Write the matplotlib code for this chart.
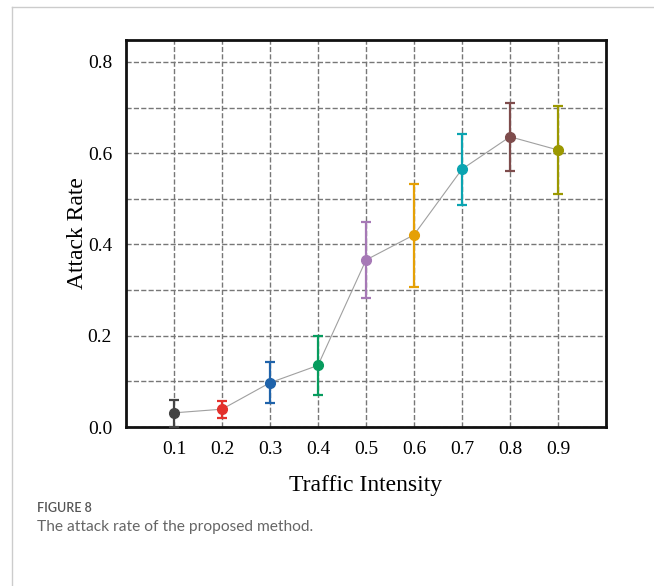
import matplotlib.pyplot as plt
from matplotlib.lines import Line2D

# traffic intensity levels and measured attack rate (mean +/- error)
intensity = [0.1, 0.2, 0.3, 0.4, 0.5, 0.6, 0.7, 0.8, 0.9]
attack_rate = [0.031, 0.039, 0.097, 0.135, 0.366, 0.421, 0.565, 0.636, 0.607]
err_low = [0.031, 0.019, 0.045, 0.065, 0.083, 0.114, 0.078, 0.074, 0.096]
err_high = [0.028, 0.018, 0.045, 0.065, 0.083, 0.112, 0.076, 0.075, 0.096]
colors = ['#444444', '#e3312d', '#1f63aa', '#079c5e', '#a679b6',
          '#e5a005', '#0ba4b1', '#7e4c4c', '#9b9800']

fig = plt.figure(figsize=(6.54, 5.86), dpi=100)
ax = fig.add_axes([126 / 654, 1 - 427 / 586, 480 / 654, 387 / 586])

ax.plot(intensity, attack_rate, color='#a0a0a0', linewidth=0.8, zorder=2)
for x, y, lo, hi, c in zip(intensity, attack_rate, err_low, err_high, colors):
    ax.errorbar(x, y, yerr=[[lo], [hi]], fmt='o', color=c, markersize=7,
                elinewidth=1.6, capsize=3.5, capthick=1.6, zorder=3)

ax.set_xlim(0, 1.0)
ax.set_ylim(0, 0.848)
ax.set_xticks(intensity)
ax.set_xticklabels([f'{v:.1f}' for v in intensity])
ax.set_yticks([0.0, 0.2, 0.4, 0.6, 0.8])
ax.set_yticklabels(['0.0', '0.2', '0.4', '0.6', '0.8'])
ax.set_yticks([0.1, 0.3, 0.5, 0.7], minor=True)
ax.tick_params(which='both', length=0, labelsize=14, pad=10)
ax.grid(True, which='both', linestyle='--', color='#777777', linewidth=1)
for lab in ax.get_xticklabels() + ax.get_yticklabels():
    lab.set_family('Liberation Serif')
for s in ax.spines.values():
    s.set_linewidth(2)
    s.set_color('#111111')

ax.set_xlabel('Traffic Intensity', family='Liberation Serif', fontsize=17, labelpad=12)
ax.set_ylabel('Attack Rate', family='Liberation Serif', fontsize=17, labelpad=0)

# outer frame of the figure panel
fig.add_artist(Line2D([12 / 654, 1.0], [1 - 7 / 586, 1 - 7 / 586], color='#cccccc', linewidth=1))
fig.add_artist(Line2D([12 / 654, 12 / 654], [0, 1 - 7 / 586], color='#cccccc', linewidth=1))

fig.text(37 / 654, 1 - 508 / 586, 'FIGURE 8', family='Lato', fontsize=9,
         weight='semibold', color='#555555', va='center')
fig.text(37 / 654, 1 - 527 / 586, 'The attack rate of the proposed method.',
         family='Lato', fontsize=11.2, color='#666666', va='center')

fig.savefig('out.png', dpi=100)
